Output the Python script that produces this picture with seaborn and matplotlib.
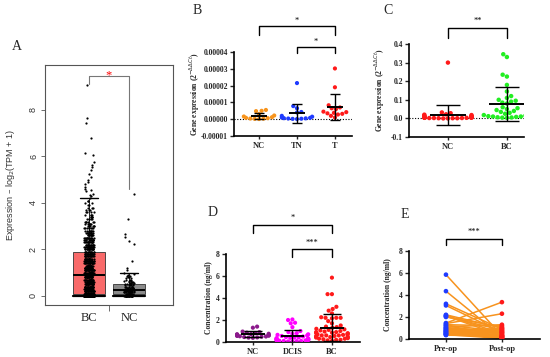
import numpy as np
import pandas as pd
import matplotlib
matplotlib.use("Agg")
import matplotlib.pyplot as plt
import seaborn as sns

a_bc_levels = [0.0, 0.1, 0.2, 0.3, 0.4, 0.5, 0.6, 0.7, 0.8, 0.9,
               1.0, 1.1, 1.2, 1.3, 1.4, 1.5, 1.6, 1.7, 1.8, 1.9,
               2.0, 2.1, 2.2, 2.3, 2.4, 2.5, 2.6, 2.7, 2.8, 2.9,
               3.0, 3.1, 3.2, 3.3, 3.4, 3.5, 3.6, 3.7, 3.8, 3.9,
               4.0, 4.1, 4.2]
a_bc_counts = [120, 80, 30, 28, 27, 25, 24, 23, 22, 21,
               28, 26, 24, 22, 20, 19, 18, 16, 14, 13,
               17, 16, 15, 14, 13, 12, 11, 10, 9, 8,
               7, 6, 6, 5, 5, 4, 4, 3, 3, 2,
               2, 2, 1]
a_bc_high = [4.3, 4.35, 4.4, 4.5, 4.55, 4.6, 4.7, 4.8, 4.9, 5.0, 5.1,
             5.25, 5.4, 5.55, 5.65, 5.75, 6.05, 6.15, 6.8, 7.45, 7.65, 9.05]
a_nc_levels = [0.0, 0.05, 0.1, 0.15, 0.2, 0.25, 0.3, 0.35, 0.4, 0.45,
               0.5, 0.55, 0.6, 0.65, 0.7, 0.75, 0.8, 0.85, 0.9, 0.95,
               1.0, 1.1, 1.2]
a_nc_counts = [22, 10, 12, 12, 10, 8, 8, 7, 6, 5,
               4, 4, 3, 3, 3, 2, 2, 2, 1, 1,
               1, 1, 1]
a_nc_high = [1.5, 2.25, 2.35, 2.55, 2.65, 3.3, 4.4]
a_groups = ["BC", "NC"]

# ---- panel B: gene expression (2^-ddCt) ----
b_groups = ["NC", "TN", "T"]
b_nc = [5.5e-6, 5.0e-6, 4.8e-6, 3.0e-6, 2.2e-6, 1.6e-6, 1.2e-6, 0.8e-6,
        0.6e-6, 0.4e-6, 0.3e-6, 0.2e-6, 0.1e-6]
b_tn = [21.5e-6, 7.8e-6, 6.5e-6, 4.3e-6, 4.0e-6, 2.0e-6, 1.5e-6, 1.0e-6,
        0.8e-6, 0.6e-6, 0.5e-6, 0.4e-6, 0.3e-6, 0.2e-6, 0.1e-6]
b_t = [30.2e-6, 19.0e-6, 8.3e-6, 7.0e-6, 6.5e-6, 6.0e-6, 4.5e-6, 4.2e-6,
       3.8e-6, 3.5e-6, 3.2e-6, 2.8e-6, 2.0e-6, 1.0e-6]
b_ticks = [-0.00001, 0.0, 0.00001, 0.00002, 0.00003, 0.00004]
b_ticklabels = ["-0.00001", "0.00000", "0.00001", "0.00002", "0.00003", "0.00004"]

# ---- panel C ----
c_groups = ["NC", "BC"]
c_nc = [0.30, 0.032, 0.028, 0.022, 0.02, 0.018, 0.015, 0.013, 0.012, 0.01,
        0.01, 0.009, 0.008, 0.007, 0.006, 0.006, 0.005, 0.005, 0.004, 0.004,
        0.003, 0.003, 0.002, 0.002, 0.002, 0.001, 0.001, 0.001, 0.0, 0.0]
c_bc = [0.345, 0.33, 0.235, 0.225, 0.18, 0.145, 0.12, 0.11, 0.10, 0.095,
        0.09, 0.085, 0.08, 0.06, 0.055, 0.05, 0.045, 0.04, 0.035, 0.03,
        0.025, 0.02, 0.02, 0.018, 0.015, 0.012, 0.01, 0.01, 0.008, 0.006,
        0.005, 0.004, 0.003]
c_ticks = [-0.1, 0.0, 0.1, 0.2, 0.3, 0.4]
c_ticklabels = ["-0.1", "0.0", "0.1", "0.2", "0.3", "0.4"]

# ---- panel D: concentration (ng/ml) ----
d_groups = ["NC", "DCIS", "BC"]
d_nc = [1.4, 1.3, 0.95, 0.9, 0.85, 0.8, 0.75, 0.72, 0.7, 0.68, 0.65,
        0.62, 0.6, 0.58, 0.55, 0.52, 0.5, 0.48, 0.45, 0.42, 0.4, 0.38]
d_dcis = [2.05, 2.0, 1.75, 1.7, 1.35, 1.0, 0.9, 0.8, 0.75, 0.7, 0.65, 0.6,
          0.55, 0.5, 0.45, 0.42, 0.4, 0.38, 0.35, 0.32, 0.3, 0.28, 0.25,
          0.22, 0.2, 0.18, 0.15, 0.12, 0.1, 0.08, 0.05, 0.05, 0.1, 0.15,
          0.2, 0.25]
d_bc = [5.85, 4.35, 4.35, 3.2, 3.0, 2.85, 2.6, 2.25, 2.2, 2.2, 2.2, 2.15,
        1.9, 1.7, 1.5, 1.4, 1.35, 1.3, 1.2, 1.15, 1.1, 1.05, 1.0, 0.95,
        0.9, 0.85, 0.8, 0.75, 0.7, 0.65, 0.6, 0.55, 0.5, 0.45, 0.4, 0.35,
        0.3, 0.25, 0.2, 0.15, 0.1, 0.9, 0.8, 0.7, 0.6, 0.5, 0.4, 0.3, 0.2,
        0.6, 0.5]
conc_ticks = [0, 2, 4, 6, 8]

# ---- panel E: paired pre-op / post-op ----
e_labels = ["Pre-op", "Post-op"]
e_pre = [5.85, 4.35, 3.2, 3.05, 2.2, 2.15, 2.1, 2.05, 2.0, 1.45, 1.4, 1.3,
         1.25, 1.2, 1.1, 1.05, 1.0, 0.95, 0.9, 0.85, 0.8, 0.75, 0.7, 0.7,
         0.65, 0.6, 0.55, 0.5, 0.5, 0.45, 0.4, 0.4, 0.35]
e_post = [0.3, 0.2, 0.9, 0.6, 1.0, 0.5, 0.3, 0.8, 1.1, 3.35, 2.3, 1.2,
          0.7, 0.4, 1.3, 0.6, 0.2, 0.5, 0.1, 0.9, 0.3, 0.05, 0.7, 0.4,
          0.2, 1.0, 0.3, 0.1, 0.6, 0.15, 0.8, 0.05, 0.25]

SERIF = "Liberation Serif"
SANS = "Liberation Sans"

sns.set_style("white")
plt.rcParams["font.family"] = [SERIF, "DejaVu Sans"]

W, H = 550, 357
fig = plt.figure(figsize=(5.5, 3.57), dpi=100)


def box(l, t, r, b):
    # pixel box -> figure axes
    return fig.add_axes([l / W, 1 - b / H, (r - l) / W, (b - t) / H])


def prism_axes(ax, ticks, ticklabels, ylabel, labelx):
    for s in ["top", "right"]:
        ax.spines[s].set_visible(False)
    for s in ["left", "bottom"]:
        ax.spines[s].set_linewidth(1.2)
        ax.spines[s].set_color("black")
    ax.set_yticks(ticks)
    ax.set_yticklabels(ticklabels, fontsize=5.5, fontweight="bold", family=SERIF)
    ax.tick_params(axis="y", direction="out", length=3, width=1, pad=1.5, left=True)
    ax.tick_params(axis="x", direction="out", length=2, width=1, pad=2, bottom=True)
    for lab in ax.get_xticklabels():
        lab.set_fontsize(6)
        lab.set_fontweight("bold")
        lab.set_family(SERIF)
    ax.set_xlabel("")
    ax.set_ylabel(ylabel, fontsize=5.5, fontweight="bold", family=SERIF)
    ax.yaxis.set_label_coords(labelx, 0.5)
    ax.grid(False)


def mean_sd(ax, groups, mw, cw):
    for i, vals in enumerate(groups):
        m = np.mean(vals)
        sd = np.std(vals, ddof=1)
        ax.hlines(m, i - mw, i + mw, color="black", lw=1.4, zorder=5)
        ax.vlines(i, m - sd, m + sd, color="black", lw=1.0, zorder=5)
        ax.hlines([m - sd, m + sd], i - cw, i + cw, color="black", lw=1.0, zorder=5)


def bracket(ax, x1, x2, y, leg1, leg2, label, ty, color="black", tcolor="black",
            lw=1.0, size=6):
    ax.plot([x1, x1, x2, x2], [leg1, y, y, leg2], color=color, lw=lw,
            clip_on=False, zorder=6)
    ax.text((x1 + x2) / 2, ty, label, ha="center", va="center", color=tcolor,
            fontsize=size, family=SERIF, clip_on=False)


def swarm(ax, names, series, colors, size=3.0):
    df = pd.DataFrame({
        "group": np.concatenate([[n] * len(v) for n, v in zip(names, series)]),
        "value": np.concatenate(series),
    })
    sns.swarmplot(data=df, x="group", y="value", hue="group", order=names,
                  hue_order=names, palette=colors, size=size, ax=ax,
                  legend=False, warn_thresh=1.0, zorder=3)


# ================= A =================
axA = box(45, 65, 173, 305)
bc_vals = np.concatenate([np.repeat(a_bc_levels, a_bc_counts), a_bc_high])
nc_vals = np.concatenate([np.repeat(a_nc_levels, a_nc_counts), a_nc_high])
dfA = pd.DataFrame({"group": ["BC"] * len(bc_vals) + ["NC"] * len(nc_vals),
                    "value": np.concatenate([bc_vals, nc_vals])})
sns.stripplot(data=dfA, x="group", y="value", order=a_groups, color="black",
              size=1.6, jitter=0.12, linewidth=0, ax=axA, zorder=4)
bp = axA.boxplot([bc_vals, nc_vals], positions=[0, 1], widths=0.8, whis=1.3,
                 patch_artist=True, showfliers=False, manage_ticks=False,
                 capwidths=0.45, zorder=2)
for patch, fc in zip(bp["boxes"], ["#F96A6A", "#8A8A8A"]):
    patch.set_facecolor(fc)
    patch.set_edgecolor("#333333")
    patch.set_linewidth(0.6)
for med in bp["medians"]:
    med.set_color("black")
    med.set_linewidth(1.4)
for wk in bp["whiskers"]:
    wk.set_color("black")
    wk.set_linewidth(0.6)
for i, cp in enumerate(bp["caps"]):
    cp.set_color("black")
    cp.set_linewidth(1.0)
    if i % 2 == 0:
        # lower cap spans the whole box width
        c = i // 2
        cp.set_xdata([c - 0.4, c + 0.4])
        cp.set_linewidth(1.6)
axA.set_xlim(-1.1, 2.1)
axA.set_ylim(-0.39, 9.93)
for s in axA.spines.values():
    s.set_visible(True)
    s.set_color("#555555")
    s.set_linewidth(0.8)
axA.set_yticks([0, 2, 4, 6, 8])
axA.set_yticklabels(["0", "2", "4", "6", "8"], rotation=90, va="center",
                    fontsize=6.5, family=SANS, color="#333333")
axA.tick_params(axis="y", direction="out", length=3, width=0.6, left=True,
                color="#555555", pad=2)
axA.set_xticks([0, 1])
axA.set_xticklabels(a_groups, fontsize=9, family=SERIF)
axA.tick_params(axis="x", length=0, pad=5)
axA.set_xticks([0.5], minor=True)
axA.tick_params(axis="x", which="minor", length=4, width=0.6, color="#555555",
                bottom=True)
axA.set_xlabel("")
axA.set_ylabel("Expression – log$_2$(TPM + 1)", fontsize=6.5, family=SANS,
               color="#333333")
axA.yaxis.set_label_coords(-0.22, 0.5)
bracket(axA, 0.0, 1.0, 9.45, 9.1, 4.6, "*", 9.5, color="#777777",
        tcolor="red", lw=0.8, size=9)

# ================= B =================
axB = box(234, 52, 352, 136)
swarm(axB, b_groups, [b_nc, b_tn, b_t], ["#F7941D", "#1F3BFF", "#FF1A1A"], size=3.0)
axB.axhline(0, color="black", lw=0.8, ls=(0, (1, 1.5)), zorder=1)
mean_sd(axB, [b_nc, b_tn, b_t], 0.22, 0.14)
axB.set_xlim(-0.66, 2.45)
axB.set_ylim(-0.00001, 0.00004)
prism_axes(axB, b_ticks, b_ticklabels, "Gene expression (2$^{-ΔΔCt}$)", -0.27)
bracket(axB, 0, 2, 5.53e-5, 5.0e-5, 5.0e-5, "*", 5.85e-5)
bracket(axB, 1, 2, 4.29e-5, 3.94e-5, 3.94e-5, "*", 4.62e-5)

# ================= C =================
axC = box(409, 44, 524, 137)
swarm(axC, c_groups, [c_nc, c_bc], ["#FF1A1A", "#22EE22"], size=3.2)
axC.axhline(0, color="black", lw=0.8, ls=(0, (1, 1.5)), zorder=1)
mean_sd(axC, [c_nc, c_bc], 0.3, 0.2)
axC.set_xlim(-0.66, 1.29)
axC.set_ylim(-0.1, 0.4)
prism_axes(axC, c_ticks, c_ticklabels, "Gene expression (2$^{-ΔΔCt}$)", -0.19)
bracket(axC, 0, 1, 0.486, 0.432, 0.432, "**", 0.525)

# ================= D =================
axD = box(226, 254, 360, 342)
swarm(axD, d_groups, [d_nc, d_dcis, d_bc], ["#8B1A8B", "#FF00FF", "#FF1A1A"], size=3.0)
mean_sd(axD, [d_nc, d_dcis, d_bc], 0.3, 0.22)
axD.set_xlim(-0.68, 2.71)
axD.set_ylim(0, 8)
prism_axes(axD, conc_ticks, [str(t) for t in conc_ticks],
           "Concentration (ng/ml)", -0.1)
bracket(axD, 0, 2, 10.64, 9.9, 9.9, "*", 11.3)
bracket(axD, 1, 2, 8.45, 7.7, 7.7, "***", 9.0)

# ================= E =================
axE = box(409, 251, 540, 339)
dfE = pd.DataFrame({
    "pair": np.concatenate([np.arange(len(e_pre)), np.arange(len(e_post))]),
    "time": [0] * len(e_pre) + [1] * len(e_post),
    "value": np.concatenate([e_pre, e_post]),
    "label": [e_labels[0]] * len(e_pre) + [e_labels[1]] * len(e_post),
})
sns.lineplot(data=dfE, x="time", y="value", units="pair", estimator=None,
             color="#F7931E", lw=1.1, ax=axE, zorder=2)
sns.scatterplot(data=dfE, x="time", y="value", hue="label", hue_order=e_labels,
                palette=["#1F3BFF", "#FF1A1A"], s=11, linewidth=0, ax=axE,
                legend=False, zorder=3)
axE.set_xticks([0, 1])
axE.set_xticklabels(e_labels)
axE.set_xlim(-0.66, 1.68)
axE.set_ylim(0, 8)
prism_axes(axE, conc_ticks, [str(t) for t in conc_ticks],
           "Concentration (ng/ml)", -0.13)
bracket(axE, 0, 1, 9.1, 8.55, 8.55, "***", 9.7)

# panel letters
for letter, (px, py) in zip("ABCDE", [(17, 47), (197, 11), (388, 11), (213, 212), (405, 214)]):
    fig.text(px / W, 1 - py / H, letter, ha="center", va="center",
             fontsize=10, family=SERIF)

fig.savefig("out.png", dpi=100)
